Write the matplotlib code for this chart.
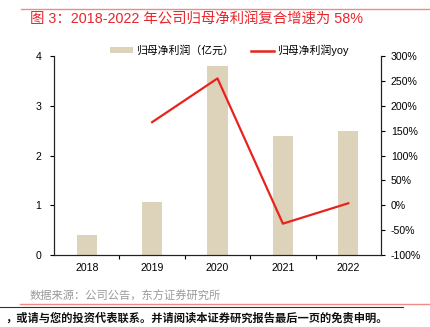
import matplotlib
matplotlib.use("Agg")
import matplotlib.pyplot as plt
from matplotlib.lines import Line2D
from matplotlib.patches import Patch

years = ["2018", "2019", "2020", "2021", "2022"]
profit = [0.40, 1.07, 3.80, 2.40, 2.50]          # 归母净利润（亿元）
yoy = [None, 167.0, 255.0, -37.0, 4.0]           # 归母净利润yoy（%）
left_ticks = [0, 1, 2, 3, 4]
right_ticks = [-100, -50, 0, 50, 100, 150, 200, 250, 300]

LATIN_CJK = ["Liberation Sans", "Noto Sans CJK SC"]
plt.rcParams["font.family"] = LATIN_CJK

BAR_C = "#ddd3bb"
LINE_C = "#e8231d"
SALMON = "#f08a84"

fig = plt.figure(figsize=(4.31, 3.27), dpi=100)
ax = fig.add_axes([0.1253, 0.2202, 0.7587, 0.6085])
ax2 = ax.twinx()

x = list(range(len(years)))
ax.bar(x, profit, width=0.31, color=BAR_C, zorder=2)
ax.set_xlim(-0.5, len(years) - 0.5)
ax.set_ylim(0, 4)
ax.set_yticks(left_ticks)
ax.set_yticklabels([str(v) for v in left_ticks])
ax.set_xticks(x)
ax.set_xticklabels(years)
ax.set_xticks([i + 0.5 for i in x[:-1]], minor=True)
ax.tick_params(axis="x", which="major", length=0, labelsize=7.6, pad=6)
ax.tick_params(axis="x", which="minor", length=3, width=0.8, direction="out")
ax.tick_params(axis="y", length=3, width=0.8, labelsize=7.6, direction="out", pad=6)

xs = [i for i, v in zip(x, yoy) if v is not None]
ys = [v for v in yoy if v is not None]
ax2.plot(xs, ys, color=LINE_C, lw=1.6, zorder=3)
ax2.set_ylim(-100, 300)
ax2.set_yticks(right_ticks)
ax2.set_yticklabels([f"{v}%" for v in right_ticks])
ax2.tick_params(axis="y", length=3, width=0.8, labelsize=7.6, direction="out", pad=4)

for a in (ax, ax2):
    a.spines["top"].set_visible(False)
    for s in ("left", "right", "bottom"):
        a.spines[s].set_linewidth(0.8)
        a.spines[s].set_color("#222222")

handles = [Patch(facecolor=BAR_C, edgecolor="none"),
           Line2D([0], [0], color=LINE_C, lw=1.8)]
labels = ["归母净利润（亿元）", "归母净利润yoy"]
fig.legend(handles, labels, loc="center", bbox_to_anchor=(0.532, 0.846),
           ncol=2, frameon=False, fontsize=7.8, handlelength=2.1,
           handleheight=0.5, handletextpad=0.25, columnspacing=1.6)

# header and footer decoration
fig.add_artist(Line2D([21 / 431, 1.0], [1 - 8.5 / 327] * 2, color=SALMON, lw=1.0))
fig.text(30 / 431, 1 - 20 / 327, "图 3：2018-2022 年公司归母净利润复合增速为 58%",
         color="#e8262b", fontsize=10.4, va="center", ha="left", family=LATIN_CJK)
fig.text(30 / 431, 1 - 296 / 327, "数据来源：公司公告，东方证券研究所",
         color="#9a9a9a", fontsize=8.1, va="center", ha="left")
fig.add_artist(Line2D([20 / 431, 1.0], [1 - 304 / 327] * 2, color=SALMON, lw=1.0))
fig.add_artist(Line2D([0, 403 / 431], [1 - 307 / 327] * 2, color="#333333", lw=0.8))
fig.text(5 / 431, 1 - 318 / 327,
         "，或请与您的投资代表联系。并请阅读本证券研究报告最后一页的免责申明。",
         color="#111111", fontsize=8.1, fontweight="bold", va="center", ha="left")

fig.savefig("out.png", dpi=100)
